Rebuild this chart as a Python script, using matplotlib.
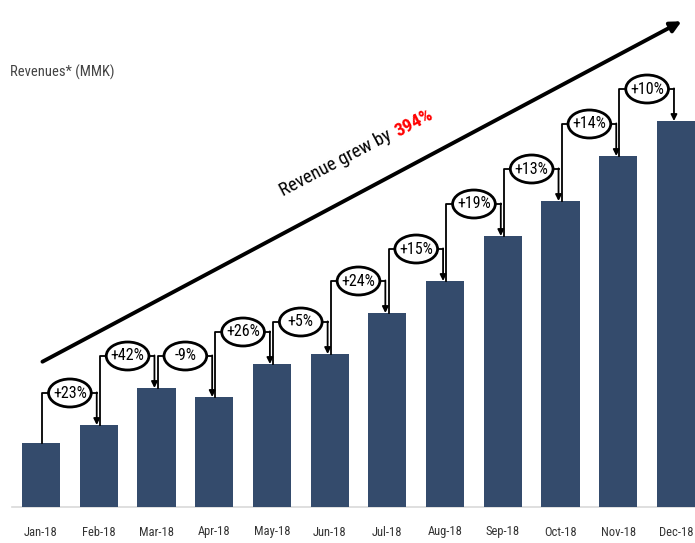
import matplotlib.pyplot as plt
from matplotlib import font_manager
from matplotlib.patches import Ellipse, FancyArrowPatch

months = ['Jan-18', 'Feb-18', 'Mar-18', 'Apr-18', 'May-18', 'Jun-18',
          'Jul-18', 'Aug-18', 'Sep-18', 'Oct-18', 'Nov-18', 'Dec-18']
revenue = [64, 82, 119, 110, 143, 153, 194, 226, 271, 306, 351, 386]
growth = ['+23%', '+42%', '-9%', '+26%', '+5%', '+24%',
          '+15%', '+19%', '+13%', '+14%', '+10%']

bar_color = '#344b6c'

names = {f.name for f in font_manager.fontManager.ttflist}
cands = ['DejaVu Sans Condensed', 'Liberation Sans Narrow', 'Roboto Condensed',
         'Open Sans Condensed', 'Noto Sans Condensed']
found = [c for c in cands if c in names]
font = (found[:1] or []) + ['DejaVu Sans']

W, H = 695, 543
fig = plt.figure(figsize=(W / 100, H / 100), dpi=100)
ax = fig.add_axes([0, 0, 1, 1])
step = 57.7
ax.set_xlim(-41 / step, 11 + 19 / step)
ax.set_ylim(-36, 507)
ax.axis('off')

x = list(range(len(months)))
ax.bar(x, revenue, width=0.66, color=bar_color, zorder=2)
ax.axhline(0, xmin=12 / W, color='#d9d9d9', lw=1.2, zorder=1)

for i, m in enumerate(months):
    ax.text(i, -25, m, ha='center', va='center', fontsize=9,
            color='#333333', family=font)

# growth connectors
for i, g in enumerate(growth):
    a, b = revenue[i], revenue[i + 1]
    lvl = max(a, b) + 32
    xa, xb = i + 0.02, i + 1 - 0.035
    mid = i + 0.5
    ew = 0.74
    ax.plot([xa, xa, mid], [a, lvl, lvl], color='black', lw=1.3, zorder=3)
    ax.plot([mid, xb], [lvl, lvl], color='black', lw=1.3, zorder=3)
    ax.annotate('', xy=(xb, b), xytext=(xb, lvl + 0.6),
                arrowprops=dict(arrowstyle='-|>', color='black', lw=1.3,
                                mutation_scale=9, shrinkA=0, shrinkB=0), zorder=3)
    ax.add_patch(Ellipse((mid, lvl), ew, 28, facecolor='white',
                         edgecolor='black', lw=2, zorder=4))
    ax.text(mid, lvl, g, ha='center', va='center', fontsize=11.5,
            family=font, zorder=5)

# big trend arrow
fig.patches.append(FancyArrowPatch(
    (40 / W, 1 - 363 / H), (684 / W, 1 - 20 / H), transform=fig.transFigure,
    arrowstyle='-|>', mutation_scale=16, lw=2.8, color='black'))

ang = 27.8
px, py = 393, 139
fig.text(px / W, 1 - py / H, 'Revenue grew by', rotation=ang,
         rotation_mode='anchor', ha='right', va='baseline', fontsize=13.5,
         family=font)
fig.text((px + 5) / W, 1 - (py - 2.5) / H, '394%', rotation=ang,
         rotation_mode='anchor', ha='left', va='baseline', fontsize=13.5,
         fontweight='bold', color='#ff0000', family=font)

fig.text(10 / W, 1 - 72 / H, 'Revenues* (MMK)', ha='left', va='center',
         fontsize=10.5, color='#444444', family=font)

fig.savefig('out.png', dpi=100)
